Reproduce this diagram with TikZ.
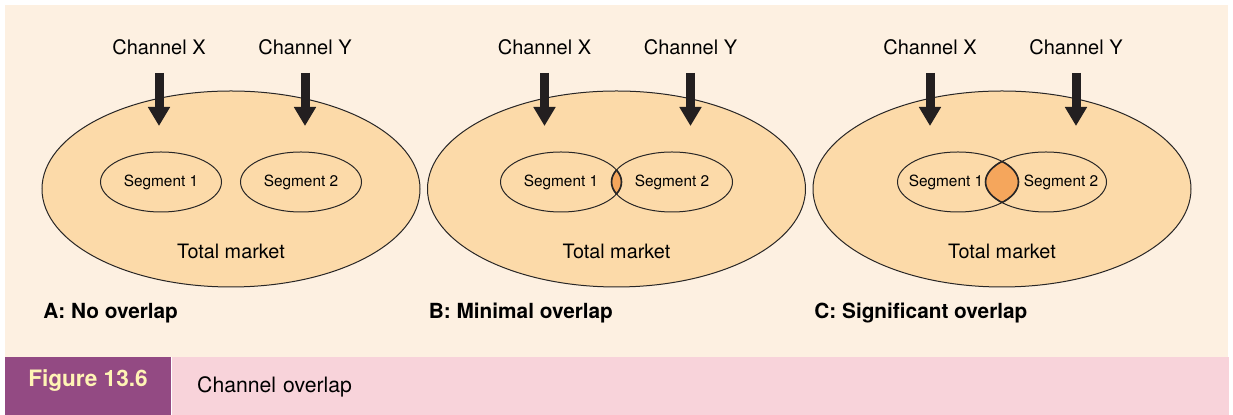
\documentclass[tikz,border=0pt]{standalone}
\usepackage{fontspec}
\setmainfont{TeX Gyre Heros}
\usepackage{xcolor}
\usetikzlibrary{arrows.meta,positioning,shapes.geometric}
\definecolor{paper}{RGB}{253,240,225}
\definecolor{marketfill}{RGB}{252,218,169}
\definecolor{lensfill}{RGB}{245,166,92}
\definecolor{linegray}{RGB}{40,38,38}
\definecolor{arrowdark}{RGB}{35,31,32}
\definecolor{tagpurple}{RGB}{147,74,131}
\definecolor{tagtext}{RGB}{255,244,181}
\definecolor{cappink}{RGB}{248,211,218}

\begin{document}
\begin{tikzpicture}[x=1pt, y=-1pt, >=Latex,
  every node/.style={align=center, inner sep=0pt},
  market/.style={ellipse, draw=linegray, line width=0.5pt, fill=marketfill, minimum width=189pt, minimum height=98pt},
  segment/.style={ellipse, draw=linegray, line width=0.5pt, minimum width=60.5pt, minimum height=30pt, font=\fontsize{7.7}{9}\selectfont},
  seglabel/.style={font=\fontsize{7.7}{9}\selectfont},
  channel/.style={anchor=base, font=\fontsize{10}{12}\selectfont},
  total/.style={anchor=base, font=\fontsize{9.9}{12}\selectfont},
  panel/.style={anchor=base west, font=\fontsize{10.4}{12}\selectfont\bfseries},
  feed/.style={draw=arrowdark, line width=4.5pt, shorten <=8.5pt, -{Triangle[width=10.5pt,length=9.5pt]}},
  lens/.style={fill=lensfill},
  lensline/.style={draw=linegray, line width=0.8pt}]
\useasboundingbox[fill=white] (0,0) rectangle (616.5,207.5);
\fill[paper] (2.5,2.5) rectangle (614,178.5);

% A: no overlap
\node[market] (mA) at (115.5,94.5) {};
\node[segment] (sA1) at (80.5,91) {Segment 1};
\node[segment] (sA2) at (150.5,91) {Segment 2};
\node[total] (tA) at (115.5,129.5) {Total market};
\node[channel] (xA) at (79.5,27.5) {Channel X};
\node[channel] (yA) at (152.5,27.5) {Channel Y};
\coordinate (xAtip) at (79.5,63);
\coordinate (yAtip) at (152.5,63);
\draw[feed] (xA) -- (xAtip);
\draw[feed] (yA) -- (yAtip);
\node[panel] (pA) at (21.5,159.5) {A: No overlap};

% B: minimal overlap
\node[market] (mB) at (308.25,94.5) {};
\coordinate (cB1) at (280.5,91);
\coordinate (cB2) at (336,91);
\begin{scope}
  \clip (cB1) ellipse (30.25 and 15);
  \fill[lens] (cB2) ellipse (30.25 and 15);
  \draw[lensline] (cB2) ellipse (30.25 and 15);
\end{scope}
\begin{scope}
  \clip (cB2) ellipse (30.25 and 15);
  \draw[lensline] (cB1) ellipse (30.25 and 15);
\end{scope}
\node[segment] (sB1) at (cB1) {Segment 1};
\node[segment] (sB2) at (cB2) {Segment 2};
\node[total] (tB) at (308.25,129.5) {Total market};
\node[channel] (xB) at (272.25,27.5) {Channel X};
\node[channel] (yB) at (345.25,27.5) {Channel Y};
\coordinate (xBtip) at (272.25,63);
\coordinate (yBtip) at (345.25,63);
\draw[feed] (xB) -- (xBtip);
\draw[feed] (yB) -- (yBtip);
\node[panel] (pB) at (214.25,159.5) {B: Minimal overlap};

% C: significant overlap
\node[market] (mC) at (501,94.5) {};
\coordinate (cC1) at (479,91);
\coordinate (cC2) at (523,91);
\begin{scope}
  \clip (cC1) ellipse (30.25 and 15);
  \fill[lens] (cC2) ellipse (30.25 and 15);
  \draw[lensline] (cC2) ellipse (30.25 and 15);
\end{scope}
\begin{scope}
  \clip (cC2) ellipse (30.25 and 15);
  \draw[lensline] (cC1) ellipse (30.25 and 15);
\end{scope}
\node[segment] (sC1) at (cC1) {};
\node[segment] (sC2) at (cC2) {};
\node[seglabel] (lC1) at ([xshift=-6pt]sC1.center) {Segment 1};
\node[seglabel] (lC2) at ([xshift=7.5pt]sC2.center) {Segment 2};
\node[total] (tC) at (501,129.5) {Total market};
\node[channel] (xC) at (465,27.5) {Channel X};
\node[channel] (yC) at (538,27.5) {Channel Y};
\coordinate (xCtip) at (465,63);
\coordinate (yCtip) at (538,63);
\draw[feed] (xC) -- (xCtip);
\draw[feed] (yC) -- (yCtip);
\node[panel] (pC) at (407,159.5) {C: Significant overlap};

% caption bar
\node[fill=tagpurple, minimum width=83pt, minimum height=29pt, anchor=north west] (tag) at (2.5,178.5) {};
\node[anchor=base, text=tagtext, font=\fontsize{11.3}{13}\selectfont\bfseries] (tagtxt) at (44,193.5) {Figure 13.6};
\node[fill=cappink, right=0pt of tag, minimum height=29pt, text width=503.5pt, inner xsep=12.5pt, align=left, font=\fontsize{10.6}{12}\selectfont] (caption) {Channel overlap};
\end{tikzpicture}
\end{document}
